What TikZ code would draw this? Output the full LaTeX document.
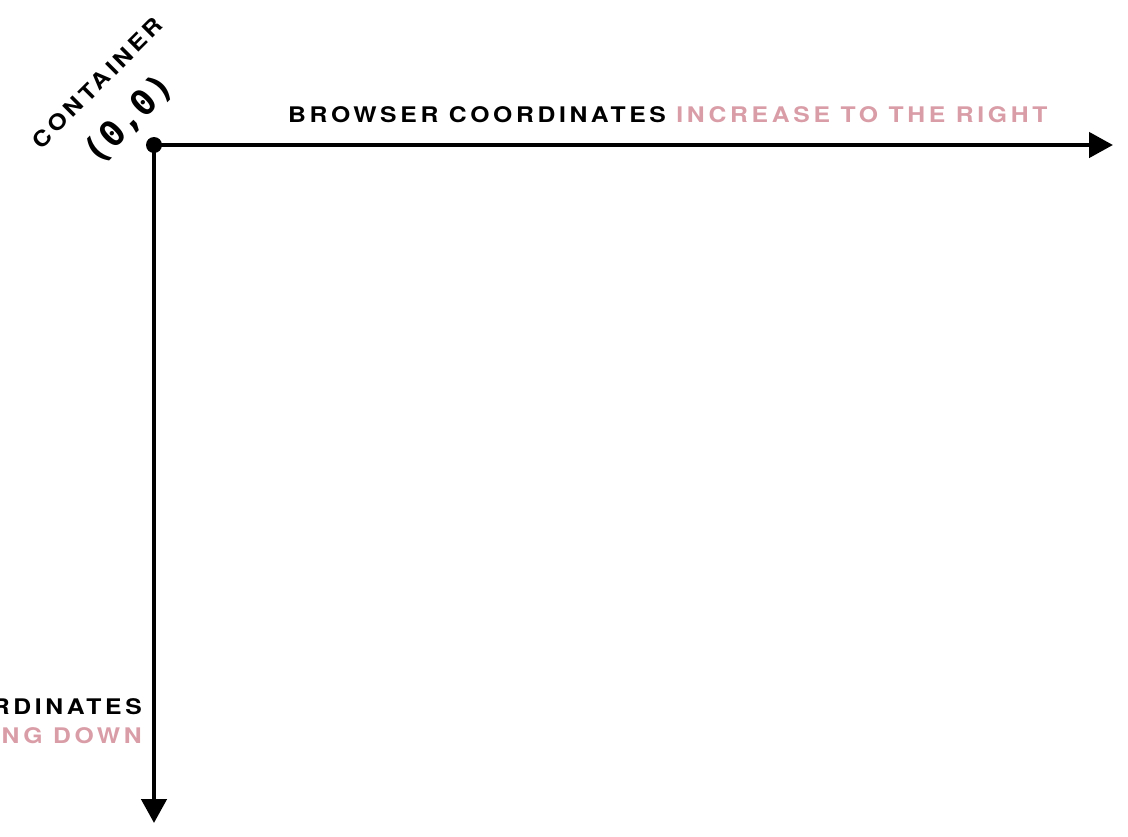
\documentclass[tikz,border=0pt]{standalone}
\usepackage{fontspec}
\setmainfont{TeX Gyre Heros}
\newfontfamily\labfont[LetterSpace=17,FakeStretch=1.15]{TeX Gyre Heros}
\newfontfamily\monofont[LetterSpace=0,FakeStretch=1.05]{DejaVu Sans Mono}
\usetikzlibrary{arrows.meta}
\definecolor{accent}{HTML}{D99DA7}
\tikzset{
  axis/.style={line width=4.6pt, -{Triangle[length=24pt,width=25pt]}},
  lab/.style={inner sep=0pt, font=\labfont\bfseries\fontsize{21.5}{26}\selectfont},
  monolab/.style={inner sep=0pt, font=\monofont\bfseries\fontsize{35}{38}\selectfont},
}
\begin{document}
\begin{tikzpicture}[x=1pt,y=-1pt]
\clip (0,0) rectangle (1128,836);
\coordinate (O) at (154,145);
\coordinate (R) at (1113,145);
\coordinate (D) at (154,823);
\draw[axis] (O) -- (R);
\draw[axis] (O) -- (D);
\fill (O) circle (8);
\node[lab, anchor=base west] (top) at (288,122.5) {BROWSER COORDINATES \textcolor{accent}{INCREASE TO THE RIGHT}};
\node[lab, anchor=base east] (bl1) at (142,714) {BROWSER COORDINATES};
\node[lab, anchor=base east, text=accent] (bl2) at (142,743) {INCREASE GOING DOWN};
\node[lab, rotate=45] (cont) at (97.5,83) {CONTAINER};
\node[monolab, rotate=45] (zero) at (129,119.5) {(0,0)};
\end{tikzpicture}
\end{document}
